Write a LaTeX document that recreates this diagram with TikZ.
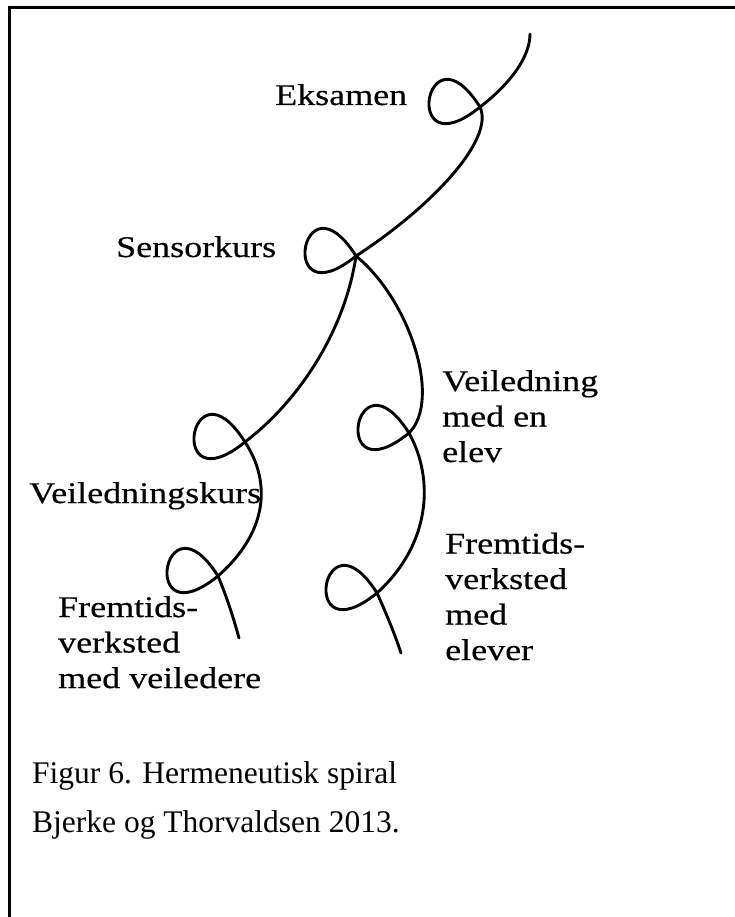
\documentclass[tikz,border=0pt]{standalone}
\usepackage{fontspec}
\setmainfont{Liberation Serif}
\newfontfamily\stagefont[FakeStretch=1.2,FakeBold=0.4]{Liberation Serif}

\begin{document}
\begin{tikzpicture}[
    x=1pt, y=-1pt,
    spiral line/.style={
      line width=2.9pt,
      line cap=round,
      line join=round
    },
    stage label/.style={
      anchor=base west,
      inner sep=0pt,
      align=left,
      font=\fontsize{30}{35.5}\stagefont
    },
    caption text/.style={
      anchor=base west,
      inner sep=0pt,
      align=left,
      font=\fontsize{31.5}{49}\selectfont
    }
  ]
    \useasboundingbox (0,0) rectangle (735,917);
    \draw[line width=2.2pt] (9.5,917) -- (9.5,7.5) -- (735,7.5);

    \coordinate (start) at (530,34);
    \coordinate (loop eksamen) at (480,107);
    \coordinate (loop sensor) at (356,256);
    \coordinate (loop vkurs) at (245,442);
    \coordinate (loop vfremtid) at (218,576);
    \coordinate (end left) at (239,638);
    \coordinate (loop elev) at (409,433);
    \coordinate (loop efremtid) at (377,593);
    \coordinate (end right) at (401,653);

    \draw[spiral line] (start) .. controls (530,60) and (505,88) .. (loop eksamen)
      .. controls +(-80,65) and +(-55,-87) .. (loop eksamen)
      .. controls (495,140) and (430,208) .. (loop sensor)
      .. controls +(-80,65) and +(-55,-87) .. (loop sensor)
      .. controls (410,300) and (442,400) .. (loop elev)
      .. controls +(-80,65) and +(-55,-87) .. (loop elev)
      .. controls (435,480) and (430,545) .. (loop efremtid)
      .. controls +(-80,65) and +(-55,-87) .. (loop efremtid)
      .. controls (387,615) and (395,635) .. (end right);

    \draw[spiral line] (loop sensor) .. controls (345,330) and (300,400) .. (loop vkurs)
      .. controls +(-80,65) and +(-55,-87) .. (loop vkurs)
      .. controls (270,480) and (270,530) .. (loop vfremtid)
      .. controls +(-80,65) and +(-55,-87) .. (loop vfremtid)
      .. controls (228,600) and (234,620) .. (end left);

    \node[stage label] (eksamen) at (275,105) {Eksamen};
    \node[stage label] (sensorkurs) at (116,257) {Sensorkurs};
    \node[stage label] (veiledningskurs) at (29,503) {Veiledningskurs};
    \node[stage label] (fremtid veiledere) at (58,688) {Fremtids-\\verksted\\med veiledere};
    \node[stage label] (veiledning elev) at (442,462) {Veiledning\\med en\\elev};
    \node[stage label] (fremtid elever) at (445,660) {Fremtids-\\verksted\\med\\elever};

    \node[caption text] (caption) at (32,832) {Figur 6. Hermeneutisk spiral\\Bjerke og Thorvaldsen 2013.};

  \end{tikzpicture}
\end{document}
